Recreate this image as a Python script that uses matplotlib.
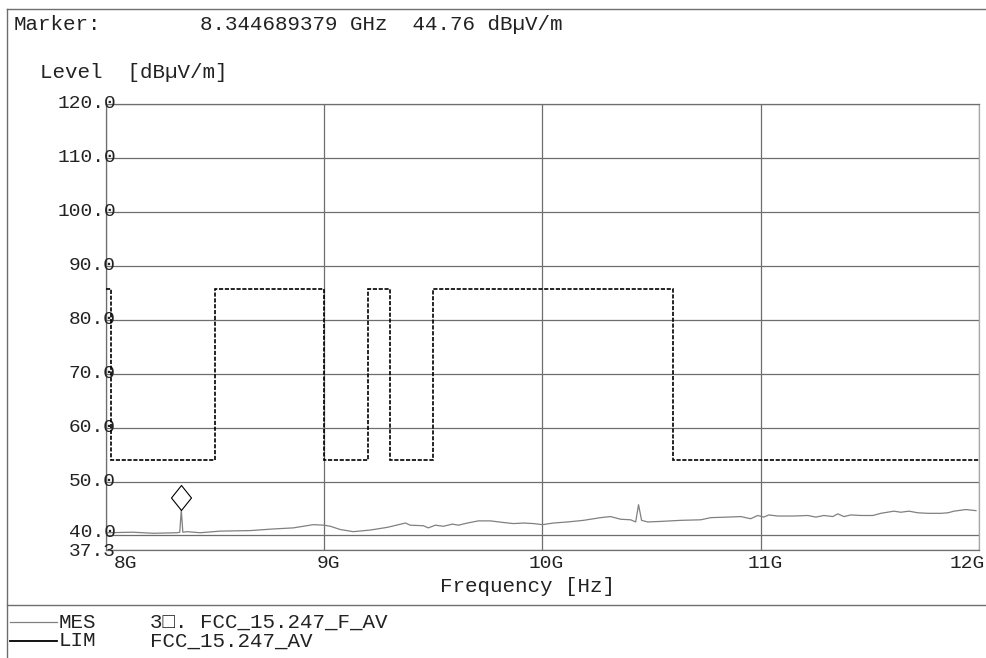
import matplotlib
matplotlib.use("Agg")
import matplotlib.pyplot as plt
import matplotlib.transforms as mtransforms
from matplotlib.path import Path
from matplotlib.lines import Line2D

mes_freq_ghz = [8.003, 8.124, 8.216, 8.326, 8.338, 8.345, 8.352, 8.372, 8.431, 8.523,
                8.661, 8.766, 8.858, 8.950, 9.000, 9.028, 9.073, 9.133, 9.211, 9.289,
                9.372, 9.394, 9.454, 9.477, 9.509, 9.546, 9.587, 9.615, 9.656, 9.706,
                9.761, 9.821, 9.867, 9.913, 9.959, 10.000, 10.050, 10.115, 10.188, 10.266,
                10.312, 10.358, 10.404, 10.427, 10.440, 10.454, 10.482, 10.541, 10.633, 10.725,
                10.771, 10.849, 10.908, 10.954, 10.986, 11.014, 11.037, 11.078, 11.151, 11.216,
                11.252, 11.289, 11.330, 11.353, 11.381, 11.413, 11.459, 11.514, 11.550, 11.610,
                11.642, 11.679, 11.720, 11.766, 11.826, 11.858, 11.885, 11.940, 11.986]
mes_level = [40.5, 40.6, 40.4, 40.5, 40.6, 44.76, 40.6, 40.7, 40.5, 40.8,
             40.9, 41.2, 41.4, 42.0, 41.9, 41.7, 41.1, 40.7, 41.0, 41.5,
             42.3, 41.9, 41.8, 41.4, 41.9, 41.7, 42.1, 41.9, 42.3, 42.7,
             42.7, 42.4, 42.2, 42.3, 42.2, 42.0, 42.3, 42.5, 42.8, 43.3,
             43.5, 43.0, 42.9, 42.5, 45.7, 42.8, 42.5, 42.6, 42.8, 42.9,
             43.3, 43.4, 43.5, 43.1, 43.7, 43.4, 43.8, 43.6, 43.6, 43.7,
             43.4, 43.7, 43.5, 44.0, 43.5, 43.8, 43.7, 43.7, 44.1, 44.5,
             44.3, 44.5, 44.2, 44.1, 44.1, 44.2, 44.5, 44.8, 44.6]

# limit line (LIM): band edges and level per band
limit_edges_ghz = [8.0, 8.025, 8.5, 9.0, 9.2, 9.3, 9.5, 10.6, 12.0]
limit_level = [85.7, 54.0, 85.7, 54.0, 85.7, 54.0, 85.7, 54.0]

marker_freq_ghz = 8.344689379
marker_level = 44.76

y_ticks = [37.3, 40, 50, 60, 70, 80, 90, 100, 110, 120]
x_ticks = [8, 9, 10, 11, 12]
x_tick_labels = ["8G", "9G", "10G", "11G", "12G"]

legend_names = ["MES", "LIM"]
legend_desc = ["3\u25a1. FCC_15.247_F_AV", "FCC_15.247_AV"]

plt.rcParams["font.family"] = ["Liberation Mono", "DejaVu Sans Mono", "DejaVu Sans"]

W, H = 987, 658
GRID = "#6e6e6e"
TRACE = "#808080"
INK = "#222222"


def fx(px):
    return px / W


def fy(py):
    return 1 - py / H


def shift(dx_px, dy_px):
    # small nudge in screen pixels (figure is 100 dpi)
    return mtransforms.ScaledTranslation(dx_px / 100, -dy_px / 100, fig.dpi_scale_trans)


fig = plt.figure(figsize=(W / 100, H / 100), dpi=100)
ax = fig.add_axes([fx(106), fy(550), 873 / W, 446 / H])

ax.plot(mes_freq_ghz, mes_level, color=TRACE, lw=0.9, zorder=3)
ax.stairs(limit_level, limit_edges_ghz, baseline=None, color="black",
          lw=1.2, linestyle=(0, (2.5, 1.0)), zorder=4)

# marker diamond sitting on top of the marker point
diamond = Path([(0, 0), (0.8, 1), (0, 2), (-0.8, 1), (0, 0)],
               [Path.MOVETO, Path.LINETO, Path.LINETO, Path.LINETO, Path.CLOSEPOLY])
ax.plot([marker_freq_ghz], [marker_level], marker=diamond, ms=36, mfc="white",
        mec="black", mew=0.8, ls="none", zorder=5)

ax.set_xlim(8, 12)
ax.set_ylim(37.3, 120)
ax.set_yticks(y_ticks, [])
ax.set_xticks(x_ticks, [])
ax.tick_params(length=0)
ax.grid(True, color=GRID, lw=0.9)
for s in ax.spines.values():
    s.set_color(GRID)
    s.set_linewidth(0.9)
ax.spines["right"].set_color("#a8a8a8")

# y labels: last digit sits on the axis line, as in the original printout
ytr = ax.get_yaxis_transform()
for v in y_ticks:
    dy = {40: -3, 37.3: 1}.get(v, 0)
    ax.text(0, v, f"{v:.1f}", fontsize=14, ha="right", va="center", color=INK,
            transform=ytr + shift(10, dy))

# x labels
xtr = ax.get_xaxis_transform()
for i, (v, lab) in enumerate(zip(x_ticks, x_tick_labels)):
    ha = "left" if i == 0 else ("right" if i == len(x_ticks) - 1 else "center")
    dx = 8 if i == 0 else (6 if i == len(x_ticks) - 1 else 4)
    ax.text(v, 0, lab, fontsize=14, ha=ha, va="top", color=INK,
            transform=xtr + shift(dx, 5))

# header and axis captions
fig.text(fx(14), fy(24), "Marker:", fontsize=15, va="center", color=INK)
fig.text(fx(200), fy(24), "8.344689379 GHz  44.76 dB\u00b5V/m", fontsize=15,
         va="center", color=INK)
fig.text(fx(40), fy(72), "Level  [dB\u00b5V/m]", fontsize=15, va="center", color=INK)
fig.text(fx(528), fy(586), "Frequency [Hz]", fontsize=15, ha="center", va="center",
         color=INK)

# frame lines
frame = dict(transform=fig.transFigure, color=GRID, lw=1.0)
fig.add_artist(Line2D([fx(7), fx(7)], [fy(9), 0], **frame))
fig.add_artist(Line2D([fx(7), 1], [fy(9), fy(9)], **frame))
fig.add_artist(Line2D([fx(7), 1], [fy(605), fy(605)], **frame))

# legend block
leg_y = [622, 641]
leg_style = [dict(color=TRACE, lw=0.9), dict(color="black", lw=1.3)]
for name, desc, yy, st in zip(legend_names, legend_desc, leg_y, leg_style):
    fig.add_artist(Line2D([fx(10), fx(57)], [fy(yy), fy(yy)],
                          transform=fig.transFigure, **st))
    fig.text(fx(59), fy(yy), name, fontsize=15, va="center", color=INK)
    fig.text(fx(150), fy(yy), desc, fontsize=15, va="center", color=INK)

fig.savefig("out.png", dpi=100, facecolor="white")
